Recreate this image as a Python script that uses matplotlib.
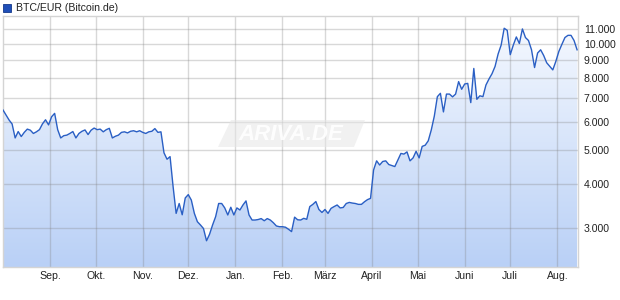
import numpy as np
import pandas as pd
import matplotlib
matplotlib.use('Agg')
import matplotlib.pyplot as plt
from matplotlib.colors import LinearSegmentedColormap
from matplotlib.patches import Polygon, Rectangle

plt.rcParams['font.family'] = ['Liberation Sans', 'DejaVu Sans']

# BTC/EUR Schlusskurse, alle 2 Tage ab 01.08.2018
prices = [
    6480, 6270, 6070, 5915, 5400, 5630, 5450, 5600, 5720, 5680,
    5560, 5620, 5700, 5920, 6080, 5880, 6200, 6340, 5700, 5400,
    5480, 5500, 5560, 5630, 5400, 5560, 5640, 5690, 5520, 5680,
    5760, 5700, 5720, 5620, 5700, 5750, 5400, 5460, 5500, 5600,
    5620, 5580, 5640, 5660, 5620, 5660, 5600, 5560, 5620, 5640,
    5740, 5600, 5620,
    4900, 4700, 4780, 3930, 3300, 3520, 3270, 3650, 3730, 3600,
    3300, 3125, 3060, 2990, 2760, 2880, 3060, 3230, 3520, 3520,
    3420, 3266, 3435, 3266, 3420, 3374, 3486, 3580, 3266, 3160,
    3160, 3170, 3190, 3145, 3190, 3160, 3105, 3040, 3025, 3025,
    3015, 2975, 2930, 3220, 3165, 3160, 3195, 3175, 3450, 3500,
    3565, 3385, 3320, 3385, 3300, 3410, 3450, 3486, 3420, 3430,
    3520, 3545, 3530, 3520, 3500, 3500, 3560, 3610, 3640, 4380,
    4650, 4525, 4630, 4650, 4540, 4510, 4480, 4676, 4880, 4860,
    4930, 4650, 4740, 4950, 4740, 5110, 5150, 5300, 5690, 6230,
    7070, 7225, 6400, 7190, 7190, 7060, 7190, 7800, 7420, 7680,
    7710, 6800, 8500, 6950, 7110, 7070, 7630, 7935, 8215, 8615,
    9340, 9900, 11050, 10900, 9300, 9900, 10440, 10000, 11000, 10400,
    10200, 9600, 8550, 9400, 9600, 9250, 8820, 8615, 8420, 8900,
    9500, 9950, 10400, 10550, 10550, 10200, 9600,
]
dates = pd.date_range('2018-08-01', periods=len(prices), freq='2D')

month_starts = pd.date_range('2018-09-01', '2019-08-01', freq='MS')
month_labels = ['Sep.', 'Okt.', 'Nov.', 'Dez.', 'Jan.', 'Feb.', 'März',
                'April', 'Mai', 'Juni', 'Juli', 'Aug.']
y_ticks = [3000, 4000, 5000, 6000, 7000, 8000, 9000, 10000, 11000]
y_labels = ['3.000', '4.000', '5.000', '6.000', '7.000', '8.000', '9.000',
            '10.000', '11.000']

line_col = '#2a5fc4'
fs = 7.6

fig = plt.figure(figsize=(6.2, 3.0), dpi=100)
ax = fig.add_axes([3 / 620, 1 - 266.7 / 300, 575.3 / 620, 250.7 / 300])
ax.set_yscale('log')
x0 = pd.Timestamp('2018-08-01')

# Flaeche mit Farbverlauf, auf die Kursflaeche beschnitten
poly = ax.fill_between(dates, prices, 1000, facecolor='none', edgecolor='none')
cmap = LinearSegmentedColormap.from_list('grad', ['#b9d0f6', '#f7faff'])
grad = np.linspace(0, 1, 256).reshape(-1, 1)
im = ax.imshow(grad, extent=[0, 1, 0, 1], transform=ax.transAxes,
               aspect='auto', cmap=cmap, origin='lower', zorder=1)
im.set_clip_path(poly.get_paths()[0], transform=ax.transData)

ax.plot(dates, prices, color=line_col, lw=1.0, zorder=3)

ax.set_xlim(x0, x0 + pd.Timedelta(days=378.8))
ax.set_ylim(2330, 11970)

ax.set_xticks(month_starts)
ax.set_xticklabels(month_labels)
ax.set_yticks(y_ticks)
ax.set_yticklabels(y_labels)
ax.yaxis.set_minor_locator(matplotlib.ticker.NullLocator())
ax.yaxis.tick_right()
ax.tick_params(axis='both', length=0, labelsize=fs, colors='#222222')
ax.tick_params(axis='x', pad=3)
ax.tick_params(axis='y', pad=4)
for lab in ax.get_yticklabels():
    lab.set_horizontalalignment('left')

ax.grid(True, color='#808080', alpha=0.3, lw=1)
for gl in ax.get_xgridlines() + ax.get_ygridlines():
    gl.set_zorder(2)
for s in ax.spines.values():
    s.set_color('#d4d4d4')
    s.set_linewidth(1)

# Wasserzeichen
corners = [(218, 147), (231, 120), (365, 120), (354, 147)]
wm = Polygon([(x / 620, 1 - y / 300) for x, y in corners], closed=True,
             transform=fig.transFigure, facecolor='#e6e6e6', edgecolor='none',
             alpha=0.55)
fig.patches.append(wm)
fig.text(291 / 620, 1 - 135 / 300, 'ARIVA.DE', color='white', fontsize=16,
         fontweight='bold', style='italic', ha='center', va='center', alpha=0.9)

# Legende
fig.patches.append(Rectangle((3 / 620, 1 - 12 / 300), 8 / 620, 8 / 300,
                             transform=fig.transFigure, facecolor='#1f4fb8',
                             edgecolor='#15398a', lw=0.6))
fig.text(16 / 620, 1 - 8 / 300, 'BTC/EUR (Bitcoin.de)', fontsize=fs,
         color='#222222', va='center', ha='left')

fig.savefig('out.png', dpi=100)
